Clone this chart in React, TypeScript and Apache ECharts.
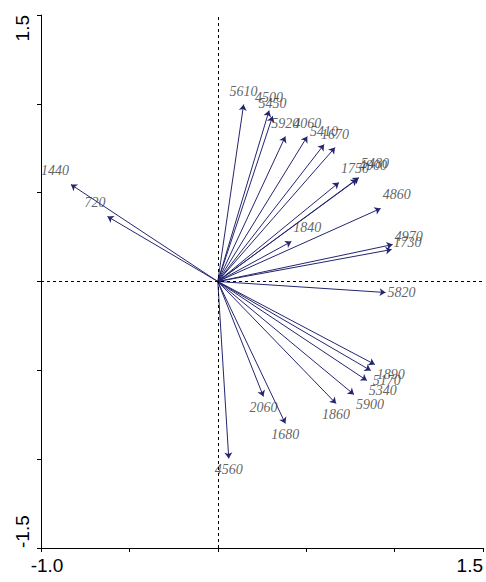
import React, { useEffect, useRef } from "react";
import * as echarts from "echarts";

// Biplot arrow labels and endpoint coordinates
const names = [
  "5610", "4500", "5450", "5920", "4060", "5410", "1670",
  "1750", "5480", "4900", "4860", "1840", "4970", "1730",
  "5820", "1890", "5170", "5340", "5900", "1860", "1680",
  "2060", "4560", "1440", "720",
];
const xs = [
  0.146, 0.29, 0.31, 0.382, 0.506, 0.601, 0.663,
  0.685, 0.798, 0.787, 0.921, 0.416, 0.989, 0.983,
  0.949, 0.888, 0.865, 0.843, 0.77, 0.669, 0.382,
  0.258, 0.062, -0.831, -0.624,
];
const ys = [
  0.996, 0.962, 0.93, 0.816, 0.816, 0.771, 0.754,
  0.557, 0.585, 0.574, 0.411, 0.225, 0.208, 0.18,
  -0.062, -0.467, -0.501, -0.557, -0.636, -0.687, -0.799,
  -0.647, -0.996, 0.546, 0.366,
];

const xTickLabels = { min: "-1.0", max: "1.5" };
const yTickLabels = { min: "-1.5", max: "1.5" };

const ARROW = "#25256f";

export default function App() {
  const ref = useRef<HTMLDivElement>(null);

  useEffect(() => {
    document.body.style.margin = "0";
    if (!ref.current) return;
    const chart = echarts.init(ref.current, null, { renderer: "svg" });

    const labelData = names.map((n, i) => {
      const x = xs[i];
      const y = ys[i];
      const len = Math.hypot(x, y) || 1;
      const ux = x / len;
      const uy = y / len;
      let align: string;
      let ox: number;
      let oy: number;
      if (Math.abs(ux) > Math.abs(uy)) {
        align = ux > 0 ? "left" : "right";
        ox = ux > 0 ? 2 : -2;
        const c = Math.max(-1, Math.min(1, uy * 2.5));
        oy = -c * 12 - 2;
      } else {
        align = "center";
        ox = 0;
        oy = uy > 0 ? -13 : 11;
      }
      return {
        name: n,
        value: [x, y],
        label: { align, offset: [ox, oy] },
      };
    });

    const fmtX = (v: number) =>
      Math.abs(v + 1) < 1e-6
        ? "{lo|" + xTickLabels.min + "}"
        : Math.abs(v - 1.5) < 1e-6
        ? xTickLabels.max
        : "";
    const fmtY = (v: number) =>
      Math.abs(v + 1.5) < 1e-6 ? yTickLabels.min : Math.abs(v - 1.5) < 1e-6 ? yTickLabels.max : "";

    chart.setOption({
      animation: false,
      backgroundColor: "#ffffff",
      grid: { left: 41, right: 0, top: 15, bottom: 34, containLabel: false },
      xAxis: {
        type: "value",
        min: -1,
        max: 1.5,
        interval: 0.5,
        axisLine: { show: true, onZero: false, lineStyle: { color: "#000", width: 1 } },
        axisTick: { show: true, length: 4, lineStyle: { color: "#000" } },
        splitLine: { show: false },
        axisLabel: {
          formatter: fmtX,
          showMinLabel: true,
          showMaxLabel: true,
          color: "#000",
          fontSize: 19,
          fontFamily: "Liberation Sans",
          margin: 8,
          alignMinLabel: "center",
          alignMaxLabel: "right",
          rich: {
            lo: {
              fontSize: 19,
              fontFamily: "Liberation Sans",
              color: "#000",
              padding: [0, 0, 0, 12],
            },
          },
        },
      },
      yAxis: {
        type: "value",
        min: -1.5,
        max: 1.5,
        interval: 0.5,
        axisLine: { show: true, onZero: false, lineStyle: { color: "#000", width: 1 } },
        axisTick: { show: true, length: 4, lineStyle: { color: "#000" } },
        splitLine: { show: false },
        axisLabel: {
          formatter: fmtY,
          showMinLabel: true,
          showMaxLabel: true,
          rotate: 90,
          color: "#000",
          fontSize: 19,
          fontFamily: "Liberation Sans",
          margin: 9,
          alignMinLabel: "left",
          alignMaxLabel: "right",
        },
      },
      series: [
        {
          type: "lines",
          coordinateSystem: "cartesian2d",
          silent: true,
          symbol: ["none", "arrow"],
          symbolSize: 6,
          lineStyle: { color: ARROW, width: 1, opacity: 1, curveness: 0 },
          data: names.map((n, i) => ({ name: n, coords: [[0, 0], [xs[i], ys[i]]] })),
          z: 3,
        },
        {
          type: "scatter",
          silent: true,
          symbolSize: 1,
          itemStyle: { color: "rgba(0,0,0,0)" },
          label: {
            show: true,
            position: "inside",
            formatter: "{b}",
            color: "#3a3a3a",
            fontSize: 14,
            fontStyle: "italic",
            fontFamily: "Liberation Serif",
            verticalAlign: "middle",
          },
          data: labelData,
          markLine: {
            silent: true,
            symbol: "none",
            label: { show: false },
            lineStyle: { type: [3, 3], color: "#000", width: 1 },
            data: [{ xAxis: 0 }, { yAxis: 0 }],
          },
          z: 4,
        },
      ],
    });

    return () => chart.dispose();
  }, []);

  return <div ref={ref} style={{ width: 486, height: 582 }} />;
}
